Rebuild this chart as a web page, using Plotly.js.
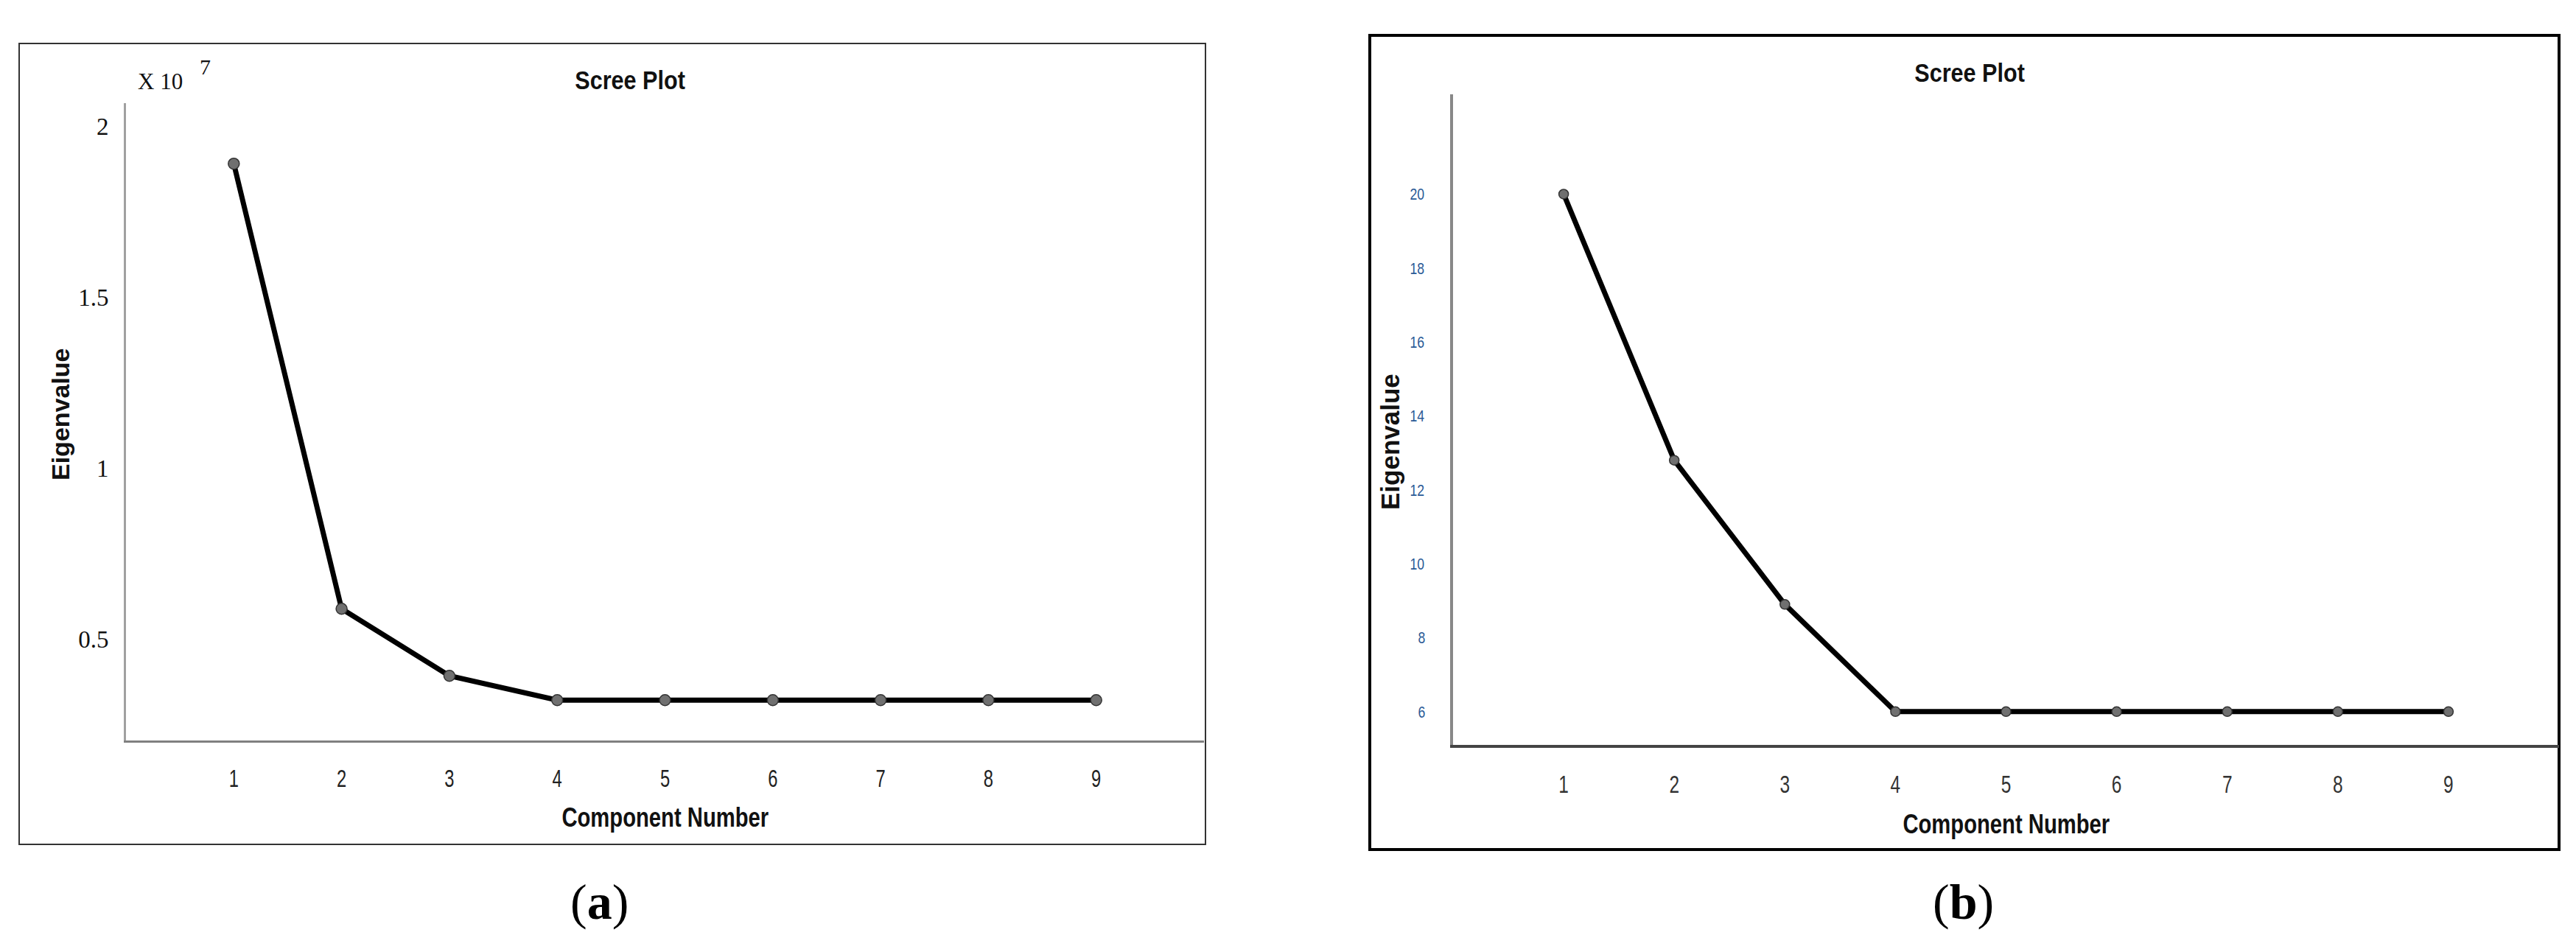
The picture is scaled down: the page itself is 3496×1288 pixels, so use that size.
<!DOCTYPE html>
<html>
<head>
<meta charset="utf-8">
<script src="https://cdn.plot.ly/plotly-3.0.1.min.js"></script>
<style>
  html, body { margin: 0; padding: 0; background: #ffffff; }
  #chart { width: 3496px; height: 1288px; }
</style>
</head>
<body>
<div id="chart"></div>
<script>
// ---- data ----
const components = [1, 2, 3, 4, 5, 6, 7, 8, 9];
const eigenA = [1.89e7, 0.589e7, 0.393e7, 0.322e7, 0.322e7, 0.322e7, 0.322e7, 0.322e7, 0.322e7];
const eigenB = [20.0, 12.8, 8.9, 6.0, 6.0, 6.0, 6.0, 6.0, 6.0];
const xTicks = [1, 2, 3, 4, 5, 6, 7, 8, 9];
const yTicksA = [0.5e7, 1e7, 1.5e7, 2e7];
const yTickTextA = ['0.5', '1', '1.5', '2'];
const yTicksB = [6, 8, 10, 12, 14, 16, 18, 20];
const yTickTextB = ['6', '8', '10', '12', '14', '16', '18', '20'];
const panelTitle = 'Scree Plot';
const xTitle = 'Component Number';
const yTitle = 'Eigenvalue';

// ---- style ----
const W = 3496, H = 1288;
const px = v => v / W;
const py = v => 1 - v / H;
const SANS = '"Liberation Sans", Arial, sans-serif';
const SERIF = '"Liberation Serif", "Times New Roman", serif';

const lineStyle = { color: '#000000', width: 7 };
const markerStyle = { color: '#707070', size: 15, line: { color: '#333333', width: 1.5 } };

const traces = [
  { x: components, y: eigenA, xaxis: 'x', yaxis: 'y', type: 'scatter', mode: 'lines+markers',
    line: lineStyle, marker: markerStyle, hoverinfo: 'skip' },
  { x: components, y: eigenB, xaxis: 'x2', yaxis: 'y2', type: 'scatter', mode: 'lines+markers',
    line: lineStyle, marker: Object.assign({}, markerStyle, { size: 13 }), hoverinfo: 'skip' }
];

const commonX = { range: [0, 10], tickvals: xTicks, ticks: '', showgrid: false, zeroline: false,
  showline: true, ticklabelstandoff: 20, fixedrange: true };
const commonY = { ticks: '', showgrid: false, zeroline: false, showline: true, fixedrange: true };

const ann = (text, x, y, font, extra) => Object.assign({
  text: text, x: x, y: y, xref: 'paper', yref: 'paper', showarrow: false,
  xanchor: 'center', yanchor: 'middle', font: font
}, extra || {});

const layout = {
  width: W, height: H,
  margin: { l: 0, r: 0, t: 0, b: 0 },
  paper_bgcolor: '#ffffff', plot_bgcolor: '#ffffff',
  showlegend: false, hovermode: false,
  xaxis: Object.assign({}, commonX, {
    domain: [px(171), px(1634)], anchor: 'y',
    linecolor: '#808080', linewidth: 3,
    tickfont: { family: SANS, size: 33, color: '#222222' }
  }),
  yaxis: Object.assign({}, commonY, {
    domain: [py(1005), py(140)], anchor: 'x',
    range: [0.204e7, 2.067e7], tickvals: yTicksA, ticktext: yTickTextA,
    linecolor: '#a0a0a0', linewidth: 3, ticklabelstandoff: 14,
    tickfont: { family: SERIF, size: 33, color: '#111111' }
  }),
  xaxis2: Object.assign({}, commonX, {
    domain: [px(1972), px(3473)], anchor: 'y2',
    linecolor: '#444444', linewidth: 4,
    tickfont: { family: SANS, size: 34, color: '#333333' }
  }),
  yaxis2: Object.assign({}, commonY, {
    domain: [py(1011), py(128)], anchor: 'x2',
    range: [5.1, 22.7], tickvals: yTicksB, ticktext: yTickTextB,
    linecolor: '#888888', linewidth: 4, ticklabelstandoff: 28,
    tickfont: { family: SANS, size: 22, color: '#2a5a96' }
  }),
  shapes: [
    { type: 'rect', xref: 'paper', yref: 'paper', x0: px(26), x1: px(1636), y0: py(1146), y1: py(59),
      line: { color: '#333333', width: 2 }, fillcolor: 'rgba(0,0,0,0)', layer: 'below' },
    { type: 'rect', xref: 'paper', yref: 'paper', x0: px(1859), x1: px(3473), y0: py(1153), y1: py(48),
      line: { color: '#000000', width: 4 }, fillcolor: 'rgba(0,0,0,0)', layer: 'below' }
  ],
  annotations: [
    // panel (a)
    ann('<b>' + panelTitle + '</b>', px(855), py(109), { family: SANS, size: 36, color: '#111111' }),
    ann('X 10', px(185), py(111), { family: SERIF, size: 31, color: '#111111' }, { xanchor: 'left' }),
    ann('7', px(278), py(91), { family: SERIF, size: 30, color: '#111111' }),
    ann('<b>' + yTitle + '</b>', px(82), py(562), { family: SANS, size: 34, color: '#111111' }, { textangle: -90 }),
    ann('<b>' + xTitle + '</b>', px(903), py(1109), { family: SANS, size: 37, color: '#111111' }),
    ann('(<b>a</b>)', px(813), py(1224), { family: SERIF, size: 68, color: '#000000' }),
    // panel (b)
    ann('<b>' + panelTitle + '</b>', px(2673), py(99), { family: SANS, size: 36, color: '#111111' }),
    ann('<b>' + yTitle + '</b>', px(1886), py(600), { family: SANS, size: 35, color: '#111111' }, { textangle: -90 }),
    ann('<b>' + xTitle + '</b>', px(2723), py(1118), { family: SANS, size: 37, color: '#111111' }),
    ann('(<b>b</b>)', px(2664), py(1224), { family: SERIF, size: 68, color: '#000000' })
  ]
};

// horizontal condensing of the narrow-font texts (the reference uses a narrow face)
function condense(el, s) {
  const bb = el.getBBox();
  const cx = bb.x + bb.width / 2;
  const prev = el.getAttribute('transform') || '';
  el.setAttribute('transform', prev + ' translate(' + cx + ',0) scale(' + s + ',1) translate(' + (-cx) + ',0)');
}

Plotly.newPlot('chart', traces, layout, { displayModeBar: false, staticPlot: true }).then(function () {
  const root = document.getElementById('chart');
  root.querySelectorAll('g.annotation text.annotation-text').forEach(function (t) {
    const s = t.textContent;
    if (s === panelTitle) condense(t, 0.85);
    else if (s === xTitle) condense(t, 0.79);
  });
  root.querySelectorAll('g.xtick text').forEach(function (t) { condense(t, 0.72); });
  root.querySelectorAll('g.x2tick text').forEach(function (t) { condense(t, 0.72); });
  root.querySelectorAll('g.y2tick text').forEach(function (t) { condense(t, 0.8); });
});
</script>
</body>
</html>
